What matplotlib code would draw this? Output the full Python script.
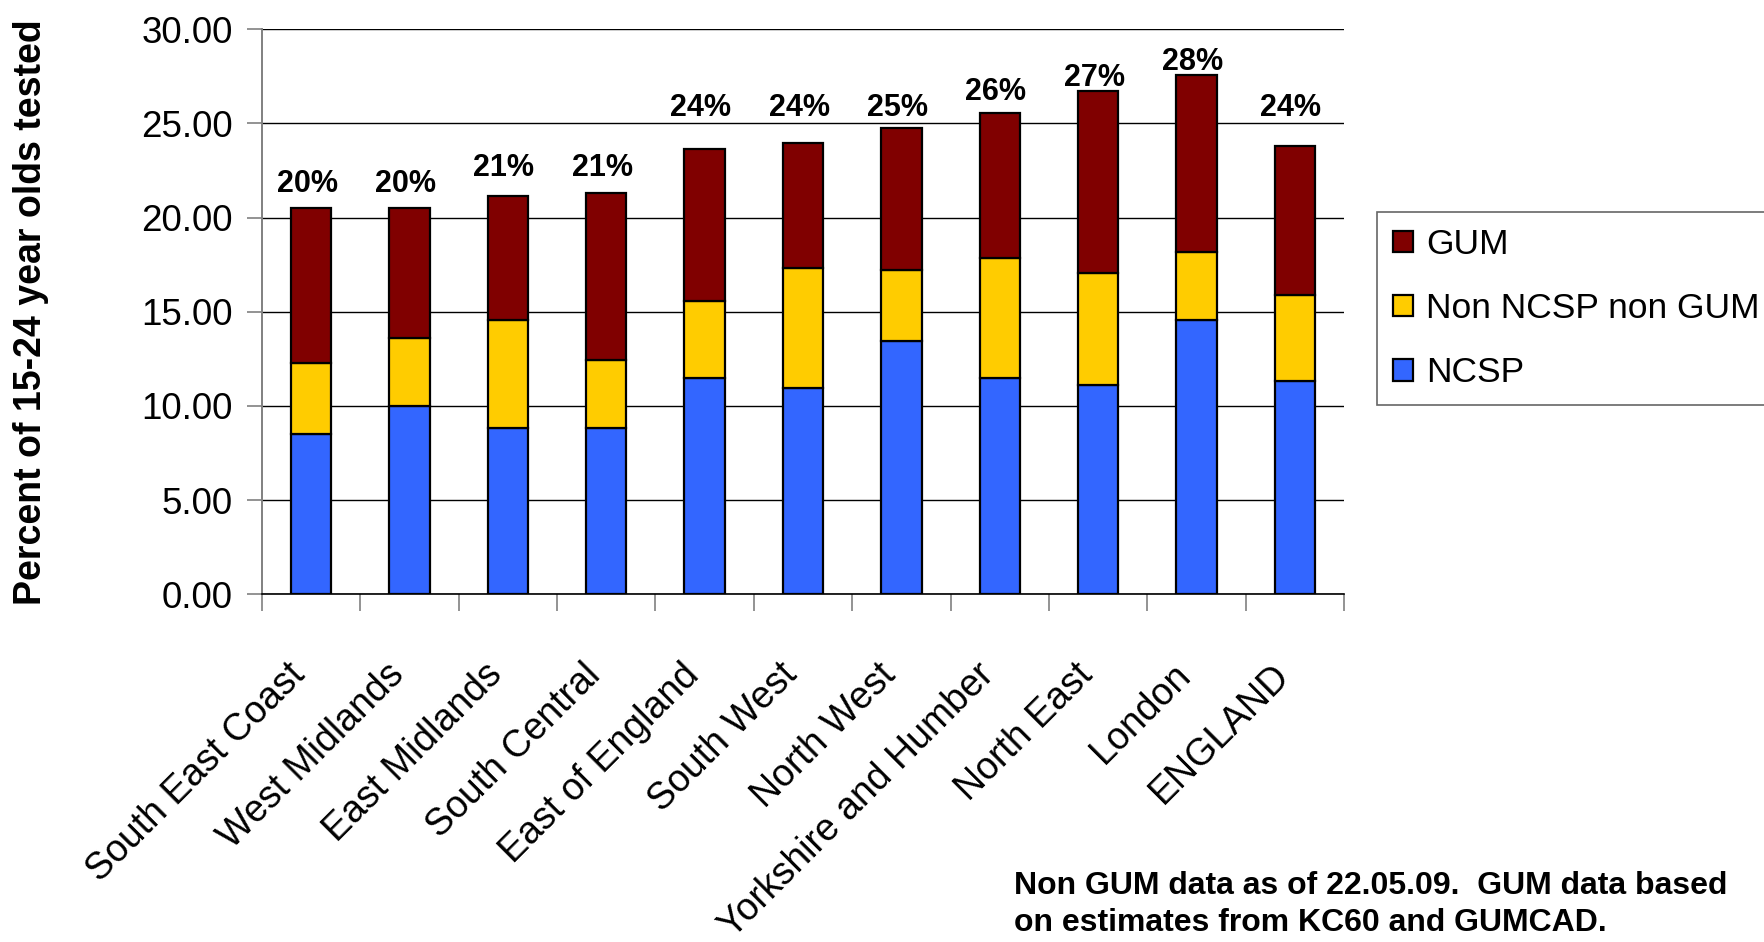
import numpy as np
import matplotlib
matplotlib.use("Agg")
import matplotlib.pyplot as plt
from matplotlib.transforms import ScaledTranslation

plt.rcParams['font.family'] = ['Liberation Sans', 'DejaVu Sans']

regions = ["South East Coast", "West Midlands", "East Midlands", "South Central",
           "East of England", "South West", "North West", "Yorkshire and Humber",
           "North East", "London", "ENGLAND"]
ncsp = [8.52, 9.99, 8.84, 8.84, 11.46, 10.98, 13.46, 11.46, 11.13, 14.59, 11.30]
non_ncsp = [3.76, 3.61, 5.71, 3.61, 4.10, 6.36, 3.74, 6.39, 5.94, 3.59, 4.59]
gum = [8.21, 6.89, 6.61, 8.86, 8.06, 6.62, 7.57, 7.72, 9.64, 9.37, 7.90]
# label heights (where the % text boxes sit)
label_y = [21.8, 21.8, 22.65, 22.65, 25.8, 25.8, 25.8, 26.65, 27.4, 28.25, 25.8]

x = np.arange(len(regions))
ncsp = np.array(ncsp)
non_ncsp = np.array(non_ncsp)
gum = np.array(gum)
total = ncsp + non_ncsp + gum

W, H = 1765, 942
fig = plt.figure(figsize=(W/100, H/100), dpi=100)
ax = fig.add_axes([262/W, 1-594.3/H, 1082/W, 565/H])

bw = 0.41
ekw = dict(edgecolor='black', linewidth=1.6, zorder=3)
b1 = ax.bar(x, ncsp, bw, color='#3366FF', label='NCSP', **ekw)
b2 = ax.bar(x, non_ncsp, bw, bottom=ncsp, color='#FFCC00', label='Non NCSP non GUM', **ekw)
b3 = ax.bar(x, gum, bw, bottom=ncsp+non_ncsp, color='#800000', label='GUM', **ekw)

for i in range(len(x)):
    ax.text(x[i]-0.04, label_y[i], "%d%%" % round(total[i]), ha='center', va='center',
            fontsize=22, fontweight='bold')

ax.set_xlim(-0.5, len(x)-0.5)
ax.set_ylim(0, 30)
ax.set_yticks(np.arange(0, 30.1, 5))
ax.set_yticklabels(["%.2f" % v for v in np.arange(0, 30.1, 5)], fontsize=26.5)
ax.yaxis.grid(True, color='black', linewidth=1.0, zorder=0)
ax.set_axisbelow(True)
ax.tick_params(axis='y', length=11, width=1.2, color='#808080', pad=10)

ax.set_xticks(x)
ax.set_xticklabels(regions, rotation=45, ha='right', va='top', rotation_mode='anchor', fontsize=27)
ax.set_xticks(np.arange(-0.5, len(x)), minor=True)
ax.tick_params(axis='x', which='major', length=0, pad=45)
ax.tick_params(axis='x', which='minor', length=12, width=1.2, color='#808080')
shift = ScaledTranslation(-0.24, 0, fig.dpi_scale_trans)
for lab in ax.get_xticklabels():
    lab.set_transform(lab.get_transform() + shift)

for s in ['top', 'right']:
    ax.spines[s].set_visible(False)
ax.spines['left'].set_color('#808080')
ax.spines['left'].set_linewidth(1.4)
ax.spines['bottom'].set_color('black')
ax.spines['bottom'].set_linewidth(1.2)

ax.set_ylabel("Percent of 15-24 year olds tested", fontsize=27, fontweight='bold')
ax.yaxis.set_label_coords(-0.197, 0.5)

leg = fig.legend(handles=[b3, b2, b1], loc='upper left', bbox_to_anchor=(1377/W, 1-212/H),
                 bbox_transform=fig.transFigure, borderaxespad=0, fontsize=25.5,
                 handlelength=0.57, handleheight=0.57, handletextpad=0.37,
                 labelspacing=0.88, borderpad=0.45, fancybox=False, frameon=True)
leg.get_frame().set_edgecolor('#404040')
leg.get_frame().set_linewidth(1.2)

fig.text(1014/W, 1-871/H, "Non GUM data as of 22.05.09.  GUM data based\non estimates from KC60 and GUMCAD.",
         ha='left', va='top', fontsize=23, fontweight='bold', linespacing=1.3)

fig.savefig("out.png", dpi=100)
